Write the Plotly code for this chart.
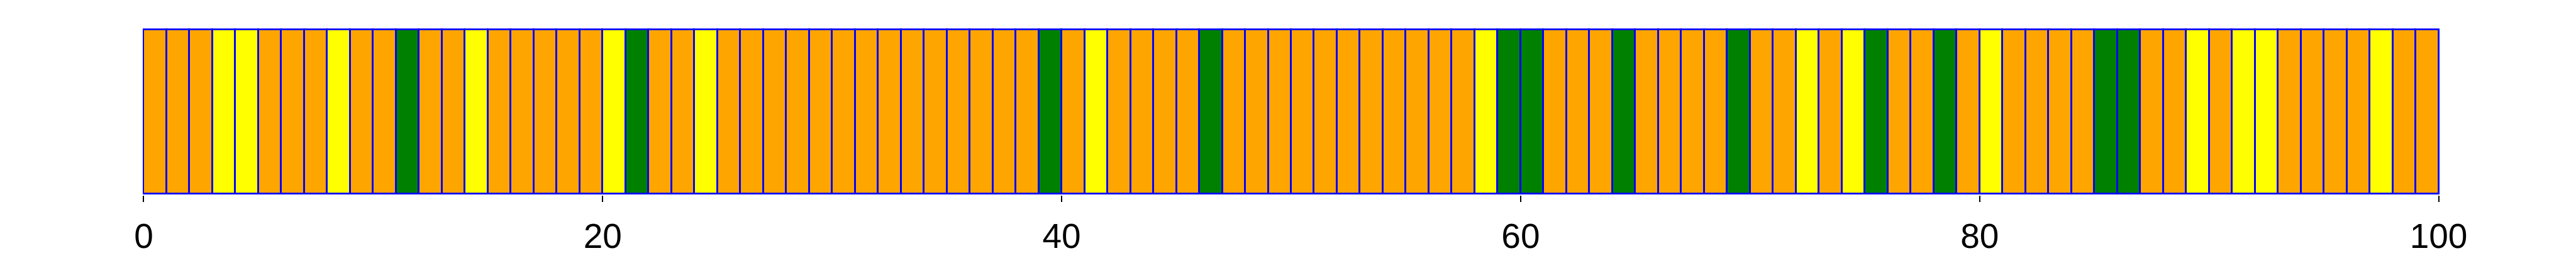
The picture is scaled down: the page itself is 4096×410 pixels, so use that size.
import plotly.graph_objects as go

# Data: one unit-wide bar per slot, coloured by state
positions = list(range(100))
heights = [1] * 100
bar_colors = [
    "orange", "orange", "orange", "yellow", "yellow", "orange", "orange", "orange", "yellow", "orange",
    "orange", "green", "orange", "orange", "yellow", "orange", "orange", "orange", "orange", "orange",
    "yellow", "green", "orange", "orange", "yellow", "orange", "orange", "orange", "orange", "orange",
    "orange", "orange", "orange", "orange", "orange", "orange", "orange", "orange", "orange", "green",
    "orange", "yellow", "orange", "orange", "orange", "orange", "green", "orange", "orange", "orange",
    "orange", "orange", "orange", "orange", "orange", "orange", "orange", "orange", "yellow", "green",
    "green", "orange", "orange", "orange", "green", "orange", "orange", "orange", "orange", "green",
    "orange", "orange", "yellow", "orange", "yellow", "green", "orange", "orange", "green", "orange",
    "yellow", "orange", "orange", "orange", "orange", "green", "green", "orange", "orange", "yellow",
    "orange", "yellow", "yellow", "orange", "orange", "orange", "orange", "yellow", "orange", "orange",
]
tick_values = [0, 20, 40, 60, 80, 100]
tick_labels = ["0", "20", "40", "60", "80", "100"]

color_map = {"orange": "#FFA500", "yellow": "#FFFF00", "green": "#008000"}

fig = go.Figure(
    go.Bar(
        x=positions,
        y=heights,
        width=1,
        offset=0,
        marker=dict(
            color=[color_map[c] for c in bar_colors],
            line=dict(color="#0000FF", width=2.8),
        ),
        hoverinfo="skip",
    )
)

fig.update_layout(
    width=4096,
    height=410,
    margin=dict(l=219.2, r=225.4, t=37.2, b=95.7, pad=0),
    paper_bgcolor="white",
    plot_bgcolor="white",
    showlegend=False,
    bargap=0,
    font=dict(family="Liberation Sans, Arial, sans-serif", color="black"),
)
fig.update_xaxes(
    range=[-0.04, 100.04],
    tickmode="array",
    tickvals=tick_values,
    ticktext=tick_labels,
    ticks="outside",
    ticklen=9.5,
    tickwidth=2.3,
    tickcolor="black",
    ticklabelstandoff=7,
    tickfont=dict(size=55, family="Liberation Sans, Arial, sans-serif", color="black"),
    showgrid=False,
    zeroline=False,
    showline=False,
)
fig.update_yaxes(
    range=[-0.006, 1.006],
    visible=False,
    showgrid=False,
    zeroline=False,
)

fig.write_html("out.html")
